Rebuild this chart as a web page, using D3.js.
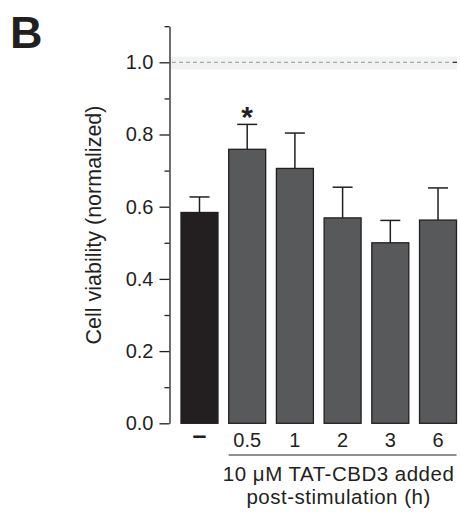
<!DOCTYPE html>
<html>
<head>
<meta charset="utf-8">
<title>Cell viability</title>
<script src="https://cdn.jsdelivr.net/npm/d3@7"></script>
<style>
  body { margin: 0; background: #fff; }
  svg { font-family: "Liberation Sans", Arial, sans-serif; }
</style>
</head>
<body>
<div id="chart"></div>
<script>
// data
var categories = ["\u2013", "0.5", "1", "2", "3", "6"];
var means = [0.584, 0.759, 0.706, 0.569, 0.500, 0.563];
var errors = [0.043, 0.069, 0.098, 0.085, 0.062, 0.089];
var significant = [false, true, false, false, false, false];
var majorTicks = [0, 0.2, 0.4, 0.6, 0.8, 1.0];
var minorTicks = [0.1, 0.3, 0.5, 0.7, 0.9, 1.1];
var controlBand = [0.98, 1.016];

var W = 460, H = 512;
var ink = "#231f20";

var svg = d3.select("#chart").append("svg")
    .attr("width", W).attr("height", H);

var y = d3.scaleLinear().domain([0, 1.1]).range([423.3, 26.2]);
var x = d3.scaleBand().domain(categories).range([181, 456.5])
    .paddingInner(0.225).paddingOuter(0);

// control band and reference line
svg.append("rect")
    .attr("x", 170).attr("width", 287)
    .attr("y", y(controlBand[1]))
    .attr("height", y(controlBand[0]) - y(controlBand[1]))
    .attr("fill", "#f1f2f2");
svg.append("line")
    .attr("x1", 172).attr("x2", 453)
    .attr("y1", y(1)).attr("y2", y(1))
    .attr("stroke", "#a7a9ac").attr("stroke-width", 1.2)
    .attr("stroke-dasharray", "4,3");
svg.append("line")
    .attr("x1", 453).attr("x2", 457)
    .attr("y1", y(1)).attr("y2", y(1))
    .attr("stroke", ink).attr("stroke-width", 1.2);

// y axis
var yAxis = svg.append("g")
    .attr("transform", "translate(169.5,0)")
    .call(d3.axisLeft(y).tickValues(majorTicks).tickSize(10).tickSizeOuter(0)
      .tickPadding(6).tickFormat(d3.format(".1f")));
yAxis.select(".domain").attr("stroke", ink).attr("stroke-width", 1.3);
yAxis.selectAll(".tick line").attr("stroke", ink).attr("stroke-width", 1.3);
yAxis.selectAll(".tick text")
    .attr("fill", ink).style("font-size", "20px")
    .attr("font-family", null);

var yMinor = svg.append("g")
    .attr("transform", "translate(169.5,0)")
    .call(d3.axisLeft(y).tickValues(minorTicks).tickSize(5).tickFormat(""));
yMinor.select(".domain").remove();
yMinor.selectAll(".tick line").attr("stroke", ink).attr("stroke-width", 1.3);

svg.append("text")
    .attr("transform", "translate(101,225) rotate(-90)")
    .attr("text-anchor", "middle")
    .style("font-size", "21.5px")
    .attr("fill", ink)
    .text("Cell viability (normalized)");

// bars
svg.selectAll(".bar").data(means).enter().append("rect")
    .attr("class", "bar")
    .attr("x", function(d, i) { return x(categories[i]); })
    .attr("width", x.bandwidth())
    .attr("y", function(d) { return y(d); })
    .attr("height", function(d) { return y(0) - y(d); })
    .attr("fill", function(d, i) { return i == 0 ? ink : "#58595b"; })
    .attr("stroke", ink).attr("stroke-width", 1.3);

// error bars
var eb = svg.selectAll(".err").data(means).enter().append("g").attr("class", "err");
eb.append("line")
    .attr("x1", function(d, i) { return x(categories[i]) + x.bandwidth() / 2; })
    .attr("x2", function(d, i) { return x(categories[i]) + x.bandwidth() / 2; })
    .attr("y1", function(d) { return y(d); })
    .attr("y2", function(d, i) { return y(d + errors[i]); })
    .attr("stroke", ink).attr("stroke-width", 1.5);
eb.append("line")
    .attr("x1", function(d, i) { return x(categories[i]) + x.bandwidth() / 2 - 10; })
    .attr("x2", function(d, i) { return x(categories[i]) + x.bandwidth() / 2 + 10; })
    .attr("y1", function(d, i) { return y(d + errors[i]); })
    .attr("y2", function(d, i) { return y(d + errors[i]); })
    .attr("stroke", ink).attr("stroke-width", 1.5);

// significance
svg.selectAll(".star").data(means.filter(function(d, i) { return significant[i]; }))
  .enter().append("text")
    .attr("class", "star")
    .attr("x", function(d) { return x(categories[means.indexOf(d)]) + x.bandwidth() / 2; })
    .attr("y", function(d) { return y(d + errors[means.indexOf(d)]) + 3; })
    .attr("text-anchor", "middle")
    .style("font-size", "30px").style("font-weight", "bold")
    .attr("fill", ink)
    .text("*");

// x labels
var xAxis = svg.append("g")
    .attr("transform", "translate(0," + y(0) + ")")
    .call(d3.axisBottom(x).tickSize(0).tickPadding(0));
xAxis.select(".domain").remove();
xAxis.selectAll(".tick text")
    .attr("dy", null).attr("y", 23.4)
    .attr("font-family", null)
    .attr("fill", ink)
    .style("font-size", "20px");
xAxis.selectAll(".tick text").filter(function(d) { return d == categories[0]; })
    .style("font-size", "25px").style("font-weight", "bold").attr("y", 21);

svg.append("line")
    .attr("x1", x(categories[1])).attr("x2", x.range()[1])
    .attr("y1", 455).attr("y2", 455)
    .attr("stroke", ink).attr("stroke-width", 1.2);

var cx = (x(categories[1]) + x.range()[1]) / 2 - 4;
svg.append("text")
    .attr("text-anchor", "middle")
    .style("font-size", "20.5px")
    .style("letter-spacing", "0.5px")
    .attr("fill", ink)
    .selectAll("tspan")
    .data(["10 \u03bcM TAT-CBD3 added", "post-stimulation (h)"])
    .enter().append("tspan")
    .attr("x", cx)
    .attr("y", function(d, i) { return 481 + i * 23; })
    .text(function(d) { return d; });

// panel letter
svg.append("text")
    .attr("x", 10).attr("y", 47.7)
    .style("font-size", "45px").style("font-weight", "bold")
    .attr("fill", ink)
    .text("B");
</script>
</body>
</html>
